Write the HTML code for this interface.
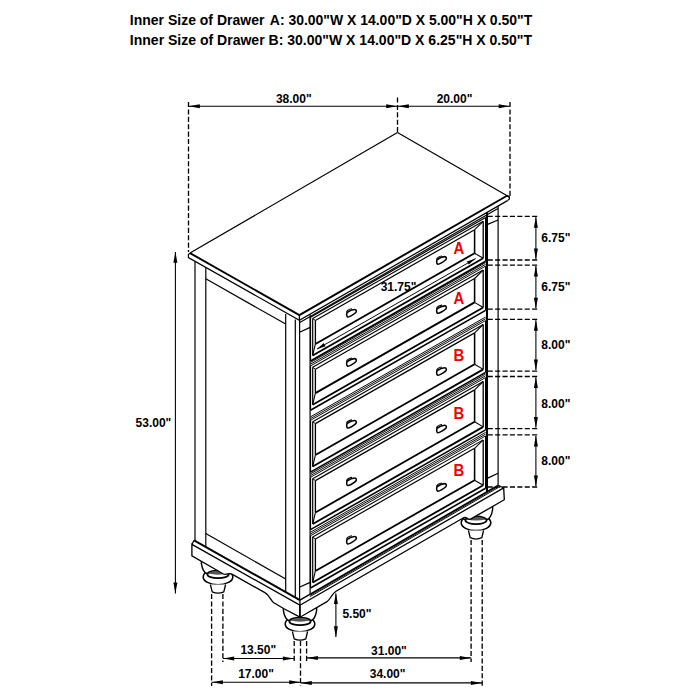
<!DOCTYPE html>
<html><head><meta charset="utf-8"><style>
html,body{margin:0;padding:0;background:#fff;width:700px;height:700px;overflow:hidden}
svg{position:absolute;left:0;top:0}
text{font-family:"Liberation Sans",sans-serif}
</style></head><body>
<svg width="700" height="700" viewBox="0 0 700 700">
<rect width="700" height="700" fill="#fff"/>
<g stroke="#000" fill="none" stroke-linecap="butt">
<clipPath id="legclip"><path d="M0,544.4 L191.9,544.4 L299.9,605.2 L503.7,487.9 L700,487.9 L700,700 L0,700 Z"/></clipPath>
<g clip-path="url(#legclip)"><ellipse cx="218.00" cy="576.90" rx="14.8" ry="7.8" stroke-width="1.56" fill="#fff"/>
<path d="M201.40,548.60 L201.40,563.60 C202.40,570.10 205.20,573.20 207.30,573.80 L228.70,573.80 C230.80,573.20 233.60,570.10 234.60,563.60 L234.60,548.60 Z" stroke-width="1.44" fill="#fff"/>
<ellipse cx="218.00" cy="574.40" rx="10.6" ry="3.8" stroke-width="1.80" fill="#fff"/>
<path d="M207.80,573.60 Q218.00,567.60 228.20,573.60 Q218.00,575.80 207.80,573.60 Z" stroke="none" fill="#555"/>
<path d="M210.40,584.50 L212.20,591.80 Q218.00,594.60 223.80,591.80 L225.60,584.50" stroke-width="1.32" fill="#fff"/>
<ellipse cx="300.00" cy="623.90" rx="14.8" ry="7.8" stroke-width="1.56" fill="#fff"/>
<path d="M283.40,595.60 L283.40,610.60 C284.40,617.10 287.20,620.20 289.30,620.80 L310.70,620.80 C312.80,620.20 315.60,617.10 316.60,610.60 L316.60,595.60 Z" stroke-width="1.44" fill="#fff"/>
<ellipse cx="300.00" cy="621.40" rx="10.6" ry="3.8" stroke-width="1.80" fill="#fff"/>
<path d="M289.80,620.60 Q300.00,614.60 310.20,620.60 Q300.00,622.80 289.80,620.60 Z" stroke="none" fill="#555"/>
<path d="M292.40,631.50 L294.20,638.80 Q300.00,641.60 305.80,638.80 L307.60,631.50" stroke-width="1.32" fill="#fff"/>
<ellipse cx="476.00" cy="522.80" rx="14.8" ry="7.8" stroke-width="1.56" fill="#fff"/>
<path d="M459.40,494.50 L459.40,509.50 C460.40,516.00 463.20,519.10 465.30,519.70 L486.70,519.70 C488.80,519.10 491.60,516.00 492.60,509.50 L492.60,494.50 Z" stroke-width="1.44" fill="#fff"/>
<ellipse cx="476.00" cy="520.30" rx="10.6" ry="3.8" stroke-width="1.80" fill="#fff"/>
<path d="M465.80,519.50 Q476.00,513.50 486.20,519.50 Q476.00,521.70 465.80,519.50 Z" stroke="none" fill="#555"/>
<path d="M468.40,530.40 L470.20,537.70 Q476.00,540.50 481.80,537.70 L483.60,530.40" stroke-width="1.32" fill="#fff"/></g>
<line x1="188.50" y1="106.30" x2="397.50" y2="106.30" stroke-width="1.08" />
<line x1="397.50" y1="106.30" x2="510.00" y2="106.30" stroke-width="1.08" />
<path d="M188.80,106.30 L199.80,104.30 L199.80,108.30 Z" fill="#000" stroke="none"/>
<path d="M397.20,106.30 L386.20,108.30 L386.20,104.30 Z" fill="#000" stroke="none"/>
<path d="M397.80,106.30 L408.80,104.30 L408.80,108.30 Z" fill="#000" stroke="none"/>
<path d="M509.70,106.30 L498.70,108.30 L498.70,104.30 Z" fill="#000" stroke="none"/>
<line x1="188.50" y1="102.00" x2="188.50" y2="252.00" stroke-width="1.32" stroke-dasharray="5.1,2.3"/>
<line x1="397.50" y1="97.50" x2="397.50" y2="132.00" stroke-width="1.32" stroke-dasharray="5.1,2.3"/>
<line x1="510.00" y1="102.00" x2="510.00" y2="196.00" stroke-width="1.32" stroke-dasharray="5.1,2.3"/>
<line x1="190.00" y1="253.10" x2="397.50" y2="132.50" stroke-width="1.20" />
<line x1="397.50" y1="132.50" x2="509.70" y2="197.20" stroke-width="1.20" />
<line x1="190.00" y1="253.10" x2="299.40" y2="315.10" stroke-width="1.92" />
<path d="M299.4,315.1 L507.0,195.73 L509.4,197.0" stroke-width="1.92" fill="none" />
<path d="M509.4,197.0 L509.4,199.0 L507.5,200.64" stroke-width="1.20" fill="none" />
<path d="M190.0,253.1 L188.4,254.6 L188.4,257.6 L299.4,320.3 L507.5,200.64" stroke-width="1.20" fill="none" />
<line x1="299.40" y1="315.10" x2="299.40" y2="320.30" stroke-width="1.20" />
<line x1="299.40" y1="322.70" x2="498.00" y2="208.51" stroke-width="1.08" />
<line x1="195.00" y1="261.70" x2="195.00" y2="540.91" stroke-width="1.20" />
<line x1="205.80" y1="267.70" x2="205.80" y2="547.00" stroke-width="1.20" />
<line x1="285.70" y1="313.90" x2="285.70" y2="592.09" stroke-width="1.20" />
<line x1="295.30" y1="319.40" x2="295.30" y2="597.51" stroke-width="1.20" />
<line x1="299.60" y1="320.30" x2="299.60" y2="600.10" stroke-width="1.20" />
<line x1="205.80" y1="278.80" x2="285.70" y2="324.00" stroke-width="1.20" />
<line x1="205.80" y1="533.60" x2="285.70" y2="579.00" stroke-width="1.20" />
<line x1="310.10" y1="314.15" x2="310.10" y2="594.19" stroke-width="1.20" />
<line x1="299.60" y1="332.30" x2="310.10" y2="327.40" stroke-width="1.20" />
<line x1="299.90" y1="587.00" x2="310.10" y2="582.40" stroke-width="1.20" />
<line x1="487.00" y1="212.43" x2="487.00" y2="491.68" stroke-width="2.04" />
<line x1="498.10" y1="206.05" x2="498.10" y2="485.24" stroke-width="1.20" />
<line x1="487.00" y1="224.60" x2="498.10" y2="220.00" stroke-width="1.20" />
<line x1="487.10" y1="478.40" x2="498.10" y2="473.30" stroke-width="1.20" />
<line x1="310.50" y1="317.33" x2="485.60" y2="217.52" stroke-width="1.20" />
<line x1="310.50" y1="361.03" x2="485.60" y2="261.22" stroke-width="1.56" />
<line x1="310.50" y1="317.33" x2="310.50" y2="361.03" stroke-width="1.20" />
<line x1="485.60" y1="217.52" x2="485.60" y2="261.22" stroke-width="1.20" />
<line x1="312.70" y1="318.48" x2="483.20" y2="221.29" stroke-width="1.08" />
<line x1="312.70" y1="355.48" x2="483.20" y2="258.29" stroke-width="1.80" />
<line x1="312.70" y1="318.48" x2="312.70" y2="355.48" stroke-width="1.20" />
<line x1="483.20" y1="221.29" x2="483.20" y2="258.29" stroke-width="1.32" />
<line x1="315.40" y1="320.44" x2="474.60" y2="229.69" stroke-width="1.20" />
<line x1="315.40" y1="343.94" x2="474.60" y2="253.19" stroke-width="1.80" />
<line x1="315.40" y1="320.44" x2="315.40" y2="343.94" stroke-width="1.32" />
<line x1="474.60" y1="229.69" x2="474.60" y2="253.19" stroke-width="1.56" />
<line x1="474.60" y1="229.69" x2="483.20" y2="221.29" stroke-width="1.08" />
<line x1="474.60" y1="253.19" x2="483.20" y2="258.29" stroke-width="1.08" />
<line x1="315.40" y1="343.94" x2="312.70" y2="355.48" stroke-width="1.08" />
<line x1="315.40" y1="320.44" x2="312.70" y2="318.48" stroke-width="0.96" />
<path transform="translate(351.40,313.34)" d="M-3.9,3.5 C-2.6,4.2 2.6,1.0 4.4,-0.8 C5.4,-2.0 5.0,-3.9 3.4,-3.9 C1.4,-3.9 -2.6,-2.2 -4.1,-1.0 C-5.1,0.0 -4.9,2.9 -3.9,3.5 Z" stroke-width="1.56" fill="none"/>
<path transform="translate(351.40,313.34)" d="M-5.0,-1.0 C-4.2,-3.0 -2.0,-4.4 0.6,-4.6" stroke-width="1.08" fill="none"/>
<path transform="translate(441.40,260.55)" d="M-3.9,3.5 C-2.6,4.2 2.6,1.0 4.4,-0.8 C5.4,-2.0 5.0,-3.9 3.4,-3.9 C1.4,-3.9 -2.6,-2.2 -4.1,-1.0 C-5.1,0.0 -4.9,2.9 -3.9,3.5 Z" stroke-width="1.56" fill="none"/>
<path transform="translate(441.40,260.55)" d="M-5.0,-1.0 C-4.2,-3.0 -2.0,-4.4 0.6,-4.6" stroke-width="1.08" fill="none"/>
<line x1="310.50" y1="362.43" x2="485.60" y2="262.62" stroke-width="0.96" />
<line x1="310.50" y1="364.18" x2="485.60" y2="264.37" stroke-width="0.96" />
<line x1="310.50" y1="365.93" x2="485.60" y2="266.12" stroke-width="0.96" />
<line x1="310.50" y1="410.23" x2="485.60" y2="310.42" stroke-width="1.56" />
<line x1="310.50" y1="366.13" x2="310.50" y2="410.23" stroke-width="1.20" />
<line x1="485.60" y1="266.32" x2="485.60" y2="310.42" stroke-width="1.20" />
<line x1="312.70" y1="367.28" x2="483.20" y2="270.09" stroke-width="1.08" />
<line x1="312.70" y1="404.68" x2="483.20" y2="307.49" stroke-width="1.80" />
<line x1="312.70" y1="367.28" x2="312.70" y2="404.68" stroke-width="1.20" />
<line x1="483.20" y1="270.09" x2="483.20" y2="307.49" stroke-width="1.32" />
<line x1="315.40" y1="369.24" x2="474.60" y2="278.49" stroke-width="1.20" />
<line x1="315.40" y1="393.14" x2="474.60" y2="302.39" stroke-width="1.80" />
<line x1="315.40" y1="369.24" x2="315.40" y2="393.14" stroke-width="1.32" />
<line x1="474.60" y1="278.49" x2="474.60" y2="302.39" stroke-width="1.56" />
<line x1="474.60" y1="278.49" x2="483.20" y2="270.09" stroke-width="1.08" />
<line x1="474.60" y1="302.39" x2="483.20" y2="307.49" stroke-width="1.08" />
<line x1="315.40" y1="393.14" x2="312.70" y2="404.68" stroke-width="1.08" />
<line x1="315.40" y1="369.24" x2="312.70" y2="367.28" stroke-width="0.96" />
<path transform="translate(351.40,362.54)" d="M-3.9,3.5 C-2.6,4.2 2.6,1.0 4.4,-0.8 C5.4,-2.0 5.0,-3.9 3.4,-3.9 C1.4,-3.9 -2.6,-2.2 -4.1,-1.0 C-5.1,0.0 -4.9,2.9 -3.9,3.5 Z" stroke-width="1.56" fill="none"/>
<path transform="translate(351.40,362.54)" d="M-5.0,-1.0 C-4.2,-3.0 -2.0,-4.4 0.6,-4.6" stroke-width="1.08" fill="none"/>
<path transform="translate(441.40,309.75)" d="M-3.9,3.5 C-2.6,4.2 2.6,1.0 4.4,-0.8 C5.4,-2.0 5.0,-3.9 3.4,-3.9 C1.4,-3.9 -2.6,-2.2 -4.1,-1.0 C-5.1,0.0 -4.9,2.9 -3.9,3.5 Z" stroke-width="1.56" fill="none"/>
<path transform="translate(441.40,309.75)" d="M-5.0,-1.0 C-4.2,-3.0 -2.0,-4.4 0.6,-4.6" stroke-width="1.08" fill="none"/>
<line x1="310.50" y1="416.83" x2="485.60" y2="317.02" stroke-width="0.96" />
<line x1="310.50" y1="418.58" x2="485.60" y2="318.77" stroke-width="0.96" />
<line x1="310.50" y1="420.33" x2="485.60" y2="320.52" stroke-width="0.96" />
<line x1="310.50" y1="472.13" x2="485.60" y2="372.32" stroke-width="1.56" />
<line x1="310.50" y1="420.53" x2="310.50" y2="472.13" stroke-width="1.20" />
<line x1="485.60" y1="320.72" x2="485.60" y2="372.32" stroke-width="1.20" />
<line x1="312.70" y1="421.68" x2="483.20" y2="324.49" stroke-width="1.08" />
<line x1="312.70" y1="466.58" x2="483.20" y2="369.39" stroke-width="1.80" />
<line x1="312.70" y1="421.68" x2="312.70" y2="466.58" stroke-width="1.20" />
<line x1="483.20" y1="324.49" x2="483.20" y2="369.39" stroke-width="1.32" />
<line x1="315.40" y1="423.64" x2="474.60" y2="332.89" stroke-width="1.20" />
<line x1="315.40" y1="455.04" x2="474.60" y2="364.29" stroke-width="1.80" />
<line x1="315.40" y1="423.64" x2="315.40" y2="455.04" stroke-width="1.32" />
<line x1="474.60" y1="332.89" x2="474.60" y2="364.29" stroke-width="1.56" />
<line x1="474.60" y1="332.89" x2="483.20" y2="324.49" stroke-width="1.08" />
<line x1="474.60" y1="364.29" x2="483.20" y2="369.39" stroke-width="1.08" />
<line x1="315.40" y1="455.04" x2="312.70" y2="466.58" stroke-width="1.08" />
<line x1="315.40" y1="423.64" x2="312.70" y2="421.68" stroke-width="0.96" />
<path transform="translate(351.40,424.44)" d="M-3.9,3.5 C-2.6,4.2 2.6,1.0 4.4,-0.8 C5.4,-2.0 5.0,-3.9 3.4,-3.9 C1.4,-3.9 -2.6,-2.2 -4.1,-1.0 C-5.1,0.0 -4.9,2.9 -3.9,3.5 Z" stroke-width="1.56" fill="none"/>
<path transform="translate(351.40,424.44)" d="M-5.0,-1.0 C-4.2,-3.0 -2.0,-4.4 0.6,-4.6" stroke-width="1.08" fill="none"/>
<path transform="translate(441.40,371.64)" d="M-3.9,3.5 C-2.6,4.2 2.6,1.0 4.4,-0.8 C5.4,-2.0 5.0,-3.9 3.4,-3.9 C1.4,-3.9 -2.6,-2.2 -4.1,-1.0 C-5.1,0.0 -4.9,2.9 -3.9,3.5 Z" stroke-width="1.56" fill="none"/>
<path transform="translate(441.40,371.64)" d="M-5.0,-1.0 C-4.2,-3.0 -2.0,-4.4 0.6,-4.6" stroke-width="1.08" fill="none"/>
<line x1="310.50" y1="473.83" x2="485.60" y2="374.02" stroke-width="0.96" />
<line x1="310.50" y1="475.58" x2="485.60" y2="375.77" stroke-width="0.96" />
<line x1="310.50" y1="477.33" x2="485.60" y2="377.52" stroke-width="0.96" />
<line x1="310.50" y1="529.63" x2="485.60" y2="429.82" stroke-width="1.56" />
<line x1="310.50" y1="477.53" x2="310.50" y2="529.63" stroke-width="1.20" />
<line x1="485.60" y1="377.72" x2="485.60" y2="429.82" stroke-width="1.20" />
<line x1="312.70" y1="478.68" x2="483.20" y2="381.49" stroke-width="1.08" />
<line x1="312.70" y1="524.08" x2="483.20" y2="426.89" stroke-width="1.80" />
<line x1="312.70" y1="478.68" x2="312.70" y2="524.08" stroke-width="1.20" />
<line x1="483.20" y1="381.49" x2="483.20" y2="426.89" stroke-width="1.32" />
<line x1="315.40" y1="480.64" x2="474.60" y2="389.89" stroke-width="1.20" />
<line x1="315.40" y1="512.54" x2="474.60" y2="421.79" stroke-width="1.80" />
<line x1="315.40" y1="480.64" x2="315.40" y2="512.54" stroke-width="1.32" />
<line x1="474.60" y1="389.89" x2="474.60" y2="421.79" stroke-width="1.56" />
<line x1="474.60" y1="389.89" x2="483.20" y2="381.49" stroke-width="1.08" />
<line x1="474.60" y1="421.79" x2="483.20" y2="426.89" stroke-width="1.08" />
<line x1="315.40" y1="512.54" x2="312.70" y2="524.08" stroke-width="1.08" />
<line x1="315.40" y1="480.64" x2="312.70" y2="478.68" stroke-width="0.96" />
<path transform="translate(351.40,481.94)" d="M-3.9,3.5 C-2.6,4.2 2.6,1.0 4.4,-0.8 C5.4,-2.0 5.0,-3.9 3.4,-3.9 C1.4,-3.9 -2.6,-2.2 -4.1,-1.0 C-5.1,0.0 -4.9,2.9 -3.9,3.5 Z" stroke-width="1.56" fill="none"/>
<path transform="translate(351.40,481.94)" d="M-5.0,-1.0 C-4.2,-3.0 -2.0,-4.4 0.6,-4.6" stroke-width="1.08" fill="none"/>
<path transform="translate(441.40,429.15)" d="M-3.9,3.5 C-2.6,4.2 2.6,1.0 4.4,-0.8 C5.4,-2.0 5.0,-3.9 3.4,-3.9 C1.4,-3.9 -2.6,-2.2 -4.1,-1.0 C-5.1,0.0 -4.9,2.9 -3.9,3.5 Z" stroke-width="1.56" fill="none"/>
<path transform="translate(441.40,429.15)" d="M-5.0,-1.0 C-4.2,-3.0 -2.0,-4.4 0.6,-4.6" stroke-width="1.08" fill="none"/>
<line x1="310.50" y1="532.23" x2="485.60" y2="432.42" stroke-width="0.96" />
<line x1="310.50" y1="533.98" x2="485.60" y2="434.17" stroke-width="0.96" />
<line x1="310.50" y1="535.73" x2="485.60" y2="435.92" stroke-width="0.96" />
<line x1="310.50" y1="588.03" x2="485.60" y2="488.22" stroke-width="1.56" />
<line x1="310.50" y1="535.93" x2="310.50" y2="588.03" stroke-width="1.20" />
<line x1="485.60" y1="436.12" x2="485.60" y2="488.22" stroke-width="1.20" />
<line x1="312.70" y1="537.08" x2="483.20" y2="439.89" stroke-width="1.08" />
<line x1="312.70" y1="582.48" x2="483.20" y2="485.29" stroke-width="1.80" />
<line x1="312.70" y1="537.08" x2="312.70" y2="582.48" stroke-width="1.20" />
<line x1="483.20" y1="439.89" x2="483.20" y2="485.29" stroke-width="1.32" />
<line x1="315.40" y1="539.04" x2="474.60" y2="448.29" stroke-width="1.20" />
<line x1="315.40" y1="570.94" x2="474.60" y2="480.19" stroke-width="1.80" />
<line x1="315.40" y1="539.04" x2="315.40" y2="570.94" stroke-width="1.32" />
<line x1="474.60" y1="448.29" x2="474.60" y2="480.19" stroke-width="1.56" />
<line x1="474.60" y1="448.29" x2="483.20" y2="439.89" stroke-width="1.08" />
<line x1="474.60" y1="480.19" x2="483.20" y2="485.29" stroke-width="1.08" />
<line x1="315.40" y1="570.94" x2="312.70" y2="582.48" stroke-width="1.08" />
<line x1="315.40" y1="539.04" x2="312.70" y2="537.08" stroke-width="0.96" />
<path transform="translate(351.40,540.35)" d="M-3.9,3.5 C-2.6,4.2 2.6,1.0 4.4,-0.8 C5.4,-2.0 5.0,-3.9 3.4,-3.9 C1.4,-3.9 -2.6,-2.2 -4.1,-1.0 C-5.1,0.0 -4.9,2.9 -3.9,3.5 Z" stroke-width="1.56" fill="none"/>
<path transform="translate(351.40,540.35)" d="M-5.0,-1.0 C-4.2,-3.0 -2.0,-4.4 0.6,-4.6" stroke-width="1.08" fill="none"/>
<path transform="translate(441.40,487.55)" d="M-3.9,3.5 C-2.6,4.2 2.6,1.0 4.4,-0.8 C5.4,-2.0 5.0,-3.9 3.4,-3.9 C1.4,-3.9 -2.6,-2.2 -4.1,-1.0 C-5.1,0.0 -4.9,2.9 -3.9,3.5 Z" stroke-width="1.56" fill="none"/>
<path transform="translate(441.40,487.55)" d="M-5.0,-1.0 C-4.2,-3.0 -2.0,-4.4 0.6,-4.6" stroke-width="1.08" fill="none"/>
<line x1="317.00" y1="349.02" x2="475.70" y2="258.57" stroke-width="0.96" />
<path d="M316.80,349.14 L323.68,343.03 L325.56,346.33 Z" fill="#000" stroke="none"/>
<path d="M475.70,258.57 L468.77,264.59 L466.99,261.46 Z" fill="#000" stroke="none"/>
<path d="M194.1,540.4 L299.9,600.1 L498.0,485.30 L503.7,487.89 L299.9,605.2 L191.9,544.4 Z" stroke-width="0.00" fill="#fff" stroke="none"/>
<path d="M191.9,544.4 L299.9,605.2 L299.9,617.2 L284,608.74 L273.8,602.79 C270.5,600.33 269.5,595.57 265.3,592.90 L232,574.12 C228,572.16 227,575.80 223,573.74 L191.9,555.9 Z" stroke-width="1.32" fill="#fff" />
<path d="M299.9,605.2 L503.7,487.89 L504.3,499.75 L471.0,518.91 C467.5,520.83 467,516.02 464.0,517.54 L336.0,591.22 C331.5,594.11 330.5,599.39 327.0,601.60 L300,617.2 Z" stroke-width="1.32" fill="#fff" />
<line x1="194.10" y1="540.40" x2="299.90" y2="600.10" stroke-width="2.04" />
<line x1="299.90" y1="600.10" x2="498.00" y2="485.30" stroke-width="1.56" />
<line x1="310.10" y1="595.39" x2="498.00" y2="486.50" stroke-width="0.96" />
<line x1="310.10" y1="596.59" x2="498.00" y2="487.70" stroke-width="0.96" />
<line x1="498.00" y1="485.30" x2="503.70" y2="487.89" stroke-width="1.20" />
<line x1="194.10" y1="540.40" x2="191.90" y2="544.40" stroke-width="1.20" />
<line x1="299.90" y1="600.10" x2="299.90" y2="617.20" stroke-width="1.32" />
<line x1="211.60" y1="594.00" x2="211.60" y2="686.00" stroke-width="1.32" stroke-dasharray="5.1,2.3"/>
<line x1="222.90" y1="594.00" x2="222.90" y2="662.00" stroke-width="1.32" stroke-dasharray="5.1,2.3"/>
<line x1="294.20" y1="641.00" x2="294.20" y2="662.00" stroke-width="1.32" stroke-dasharray="5.1,2.3"/>
<line x1="300.50" y1="641.00" x2="300.50" y2="686.00" stroke-width="1.32" stroke-dasharray="5.1,2.3"/>
<line x1="306.60" y1="641.00" x2="306.60" y2="662.00" stroke-width="1.32" stroke-dasharray="5.1,2.3"/>
<line x1="471.10" y1="540.00" x2="471.10" y2="662.00" stroke-width="1.32" stroke-dasharray="5.1,2.3"/>
<line x1="482.20" y1="540.00" x2="482.20" y2="686.00" stroke-width="1.32" stroke-dasharray="5.1,2.3"/>
<line x1="222.90" y1="658.50" x2="294.20" y2="658.50" stroke-width="1.08" />
<path d="M223.20,658.50 L234.20,656.50 L234.20,660.50 Z" fill="#000" stroke="none"/>
<path d="M293.90,658.50 L282.90,660.50 L282.90,656.50 Z" fill="#000" stroke="none"/>
<line x1="306.60" y1="657.90" x2="471.10" y2="657.90" stroke-width="1.08" />
<path d="M306.90,657.90 L317.90,655.90 L317.90,659.90 Z" fill="#000" stroke="none"/>
<path d="M470.80,657.90 L459.80,659.90 L459.80,655.90 Z" fill="#000" stroke="none"/>
<line x1="211.60" y1="682.30" x2="300.50" y2="682.30" stroke-width="1.08" />
<path d="M211.90,682.30 L222.90,680.30 L222.90,684.30 Z" fill="#000" stroke="none"/>
<path d="M300.20,682.30 L289.20,684.30 L289.20,680.30 Z" fill="#000" stroke="none"/>
<line x1="300.50" y1="682.90" x2="482.20" y2="682.90" stroke-width="1.08" />
<path d="M300.80,682.90 L311.80,680.90 L311.80,684.90 Z" fill="#000" stroke="none"/>
<path d="M481.90,682.90 L470.90,684.90 L470.90,680.90 Z" fill="#000" stroke="none"/>
<line x1="335.90" y1="593.50" x2="335.90" y2="637.00" stroke-width="1.08" />
<path d="M335.90,593.10 L337.90,604.10 L333.90,604.10 Z" fill="#000" stroke="none"/>
<path d="M335.90,637.30 L333.90,626.30 L337.90,626.30 Z" fill="#000" stroke="none"/>
<line x1="175.40" y1="252.00" x2="175.40" y2="593.50" stroke-width="1.08" />
<path d="M175.40,251.70 L177.40,262.70 L173.40,262.70 Z" fill="#000" stroke="none"/>
<path d="M175.40,593.60 L173.40,582.60 L177.40,582.60 Z" fill="#000" stroke="none"/>
<line x1="487.70" y1="216.30" x2="539.20" y2="216.30" stroke-width="1.32" stroke-dasharray="5.1,2.3"/>
<line x1="487.70" y1="260.00" x2="539.20" y2="260.00" stroke-width="1.32" stroke-dasharray="5.1,2.3"/>
<line x1="487.70" y1="265.10" x2="539.20" y2="265.10" stroke-width="1.32" stroke-dasharray="5.1,2.3"/>
<line x1="487.70" y1="309.20" x2="539.20" y2="309.20" stroke-width="1.32" stroke-dasharray="5.1,2.3"/>
<line x1="487.70" y1="319.30" x2="539.20" y2="319.30" stroke-width="1.32" stroke-dasharray="5.1,2.3"/>
<line x1="487.70" y1="371.10" x2="539.20" y2="371.10" stroke-width="1.32" stroke-dasharray="5.1,2.3"/>
<line x1="487.70" y1="376.50" x2="539.20" y2="376.50" stroke-width="1.32" stroke-dasharray="5.1,2.3"/>
<line x1="487.70" y1="428.60" x2="539.20" y2="428.60" stroke-width="1.32" stroke-dasharray="5.1,2.3"/>
<line x1="487.70" y1="434.90" x2="539.20" y2="434.90" stroke-width="1.32" stroke-dasharray="5.1,2.3"/>
<line x1="487.70" y1="487.00" x2="539.20" y2="487.00" stroke-width="1.32" stroke-dasharray="5.1,2.3"/>
<line x1="535.90" y1="217.30" x2="535.90" y2="259.00" stroke-width="1.08" />
<path d="M535.90,216.80 L537.90,227.80 L533.90,227.80 Z" fill="#000" stroke="none"/>
<path d="M535.90,259.50 L533.90,248.50 L537.90,248.50 Z" fill="#000" stroke="none"/>
<line x1="535.90" y1="266.10" x2="535.90" y2="308.20" stroke-width="1.08" />
<path d="M535.90,265.60 L537.90,276.60 L533.90,276.60 Z" fill="#000" stroke="none"/>
<path d="M535.90,308.70 L533.90,297.70 L537.90,297.70 Z" fill="#000" stroke="none"/>
<line x1="535.90" y1="320.30" x2="535.90" y2="370.10" stroke-width="1.08" />
<path d="M535.90,319.80 L537.90,330.80 L533.90,330.80 Z" fill="#000" stroke="none"/>
<path d="M535.90,370.60 L533.90,359.60 L537.90,359.60 Z" fill="#000" stroke="none"/>
<line x1="535.90" y1="377.50" x2="535.90" y2="427.60" stroke-width="1.08" />
<path d="M535.90,377.00 L537.90,388.00 L533.90,388.00 Z" fill="#000" stroke="none"/>
<path d="M535.90,428.10 L533.90,417.10 L537.90,417.10 Z" fill="#000" stroke="none"/>
<line x1="535.90" y1="435.90" x2="535.90" y2="486.00" stroke-width="1.08" />
<path d="M535.90,435.40 L537.90,446.40 L533.90,446.40 Z" fill="#000" stroke="none"/>
<path d="M535.90,486.50 L533.90,475.50 L537.90,475.50 Z" fill="#000" stroke="none"/>
</g>
<g stroke="none">
<text x="293.80" y="102.50" font-size="12" text-anchor="middle" fill="#000" font-weight="bold">38.00&quot;</text>
<text x="454.50" y="102.50" font-size="12" text-anchor="middle" fill="#000" font-weight="bold">20.00&quot;</text>
<text x="398.50" y="291.00" font-size="12" text-anchor="middle" fill="#000" font-weight="bold">31.75&quot;</text>
<text transform="translate(458.8,253.60) scale(0.93,1)" x="0" y="0" font-size="16" text-anchor="middle" fill="#f00000" font-weight="bold">A</text>
<text transform="translate(458.8,304.10) scale(0.93,1)" x="0" y="0" font-size="16" text-anchor="middle" fill="#f00000" font-weight="bold">A</text>
<text transform="translate(458.8,361.10) scale(0.93,1)" x="0" y="0" font-size="16" text-anchor="middle" fill="#f00000" font-weight="bold">B</text>
<text transform="translate(458.8,418.60) scale(0.93,1)" x="0" y="0" font-size="16" text-anchor="middle" fill="#f00000" font-weight="bold">B</text>
<text transform="translate(458.8,476.30) scale(0.93,1)" x="0" y="0" font-size="16" text-anchor="middle" fill="#f00000" font-weight="bold">B</text>
<text x="258.30" y="653.70" font-size="12" text-anchor="middle" fill="#000" font-weight="bold">13.50&quot;</text>
<text x="388.90" y="654.60" font-size="12" text-anchor="middle" fill="#000" font-weight="bold">31.00&quot;</text>
<text x="256.00" y="677.70" font-size="12" text-anchor="middle" fill="#000" font-weight="bold">17.00&quot;</text>
<text x="387.60" y="677.70" font-size="12" text-anchor="middle" fill="#000" font-weight="bold">34.00&quot;</text>
<text x="342.40" y="618.00" font-size="12" text-anchor="start" fill="#000" font-weight="bold">5.50&quot;</text>
<text x="171.30" y="427.20" font-size="12" text-anchor="end" fill="#000" font-weight="bold">53.00&quot;</text>
<text x="541.30" y="242.00" font-size="12" text-anchor="start" fill="#000" font-weight="bold">6.75&quot;</text>
<text x="541.30" y="290.50" font-size="12" text-anchor="start" fill="#000" font-weight="bold">6.75&quot;</text>
<text x="541.30" y="349.40" font-size="12" text-anchor="start" fill="#000" font-weight="bold">8.00&quot;</text>
<text x="541.30" y="407.70" font-size="12" text-anchor="start" fill="#000" font-weight="bold">8.00&quot;</text>
<text x="541.30" y="464.70" font-size="12" text-anchor="start" fill="#000" font-weight="bold">8.00&quot;</text>
<text x="129.8" y="25.1" font-size="14" font-weight="bold">Inner Size of Drawer</text>
<text x="269.8" y="25.1" font-size="14" font-weight="bold" textLength="262.4" lengthAdjust="spacingAndGlyphs">A: 30.00&quot;W X 14.00&quot;D X 5.00&quot;H X 0.50&quot;T</text>
<text x="129.8" y="44.9" font-size="14" font-weight="bold" textLength="402.3" lengthAdjust="spacingAndGlyphs">Inner Size of Drawer B: 30.00&quot;W X 14.00&quot;D X 6.25&quot;H X 0.50&quot;T</text>
</g>
</svg>
</body></html>
